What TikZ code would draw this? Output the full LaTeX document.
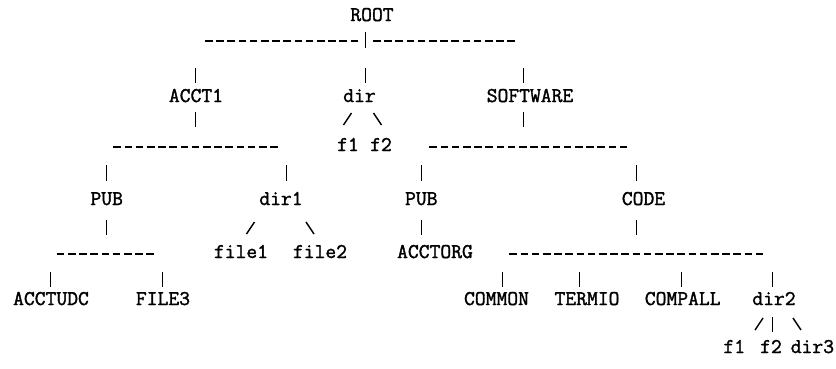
\documentclass[tikz,border=0pt]{standalone}
\usepackage{fontspec}
\newfontfamily\treefont[FakeBold=1.6]{Latin Modern Mono}
\begin{document}
\begin{tikzpicture}[x=1pt,y=-1pt,
  lbl/.style={font=\fontsize{21}{21}\selectfont\treefont, inner sep=0pt, anchor=base},
  bar/.style={line width=1.2pt},
  slash/.style={line width=1.4pt},
  dashrow/.style={line width=2pt, dash pattern=on 7.6pt off 3.6pt}]
\useasboundingbox (0,0) rectangle (836,368);
% names
\node[lbl] (root) at (372,21) {ROOT};
\node[lbl] (acct1) at (196,102) {ACCT1};
\node[lbl] (dir) at (359.5,102) {dir};
\node[lbl] (software) at (530,102) {SOFTWARE};
\node[lbl] (f1a) at (348,151) {f1};
\node[lbl] (f2a) at (381,151) {f2};
\node[lbl] (pub1) at (106.7,205) {PUB};
\node[lbl] (dir1) at (281,205) {dir1};
\node[lbl] (pub2) at (421.3,205) {PUB};
\node[lbl] (code) at (643.5,205) {CODE};
\node[lbl] (file1) at (241,258) {file1};
\node[lbl] (file2) at (320,258) {file2};
\node[lbl] (acctorg) at (435,258) {ACCTORG};
\node[lbl] (acctudc) at (51,305) {ACCTUDC};
\node[lbl] (file3) at (163,305) {FILE3};
\node[lbl] (common) at (496.5,305) {COMMON};
\node[lbl] (termio) at (587,305) {TERMIO};
\node[lbl] (compall) at (682.7,305) {COMPALL};
\node[lbl] (dir2) at (774,305) {dir2};
\node[lbl] (f1b) at (734.3,353) {f1};
\node[lbl] (f2b) at (771,353) {f2};
\node[lbl] (dir3) at (812.4,353) {dir3};
% dashed rows
\coordinate (r1a) at (205,41);   \coordinate (r1b) at (358.2,41);
\coordinate (r1c) at (373,41);   \coordinate (r1d) at (515,41);
\coordinate (r2a) at (113.3,147); \coordinate (r2b) at (277.7,147);
\coordinate (r2c) at (429.3,147); \coordinate (r2d) at (627.3,147);
\coordinate (r3a) at (56.7,254); \coordinate (r3b) at (153.9,254);
\coordinate (r3c) at (509.3,254); \coordinate (r3d) at (763.3,254);
\draw[dashrow] (r1a) -- (r1b);
\draw[dashrow] (r1c) -- (r1d);
\draw[dashrow] (r2a) -- (r2b);
\draw[dashrow] (r2c) -- (r2d);
\draw[dashrow] (r3a) -- (r3b);
\draw[dashrow] (r3c) -- (r3d);
% vertical bars
\foreach \n/\x/\ya/\yb in {
  b1/365.5/32/48,
  b2/195.5/68/83, b3/365.5/68/83, b4/523.5/68/83,
  b5/195.5/112/127, b6/523.5/112/127,
  b7/106.5/165/181, b8/286.5/165/181, b9/421.5/165/181, b10/636.5/165/181,
  b11/106.5/220/235, b12/421.5/220/235, b13/636.5/220/235,
  b14/50.5/272/287, b15/162.5/272/287, b16/502.5/272/287, b17/579.5/272/287,
  b18/681.5/272/287, b19/772.5/272/287,
  b20/772.5/317/332}
{
  \coordinate (\n t) at (\x,\ya);
  \coordinate (\n b) at (\x,\yb);
  \draw[bar] (\n t) -- (\n b);
}
% slashes
\foreach \n/\xa/\ya/\xb/\yb in {
  s1/343.5/125/351.5/113, s2/373.5/113/381.5/125,
  s3/246.5/234/254.5/222, s4/306/222/314/234,
  s5/755/330/763/318, s6/793/318/801/330}
{
  \coordinate (\n a) at (\xa,\ya);
  \coordinate (\n b) at (\xb,\yb);
  \draw[slash] (\n a) -- (\n b);
}
\end{tikzpicture}
\end{document}
